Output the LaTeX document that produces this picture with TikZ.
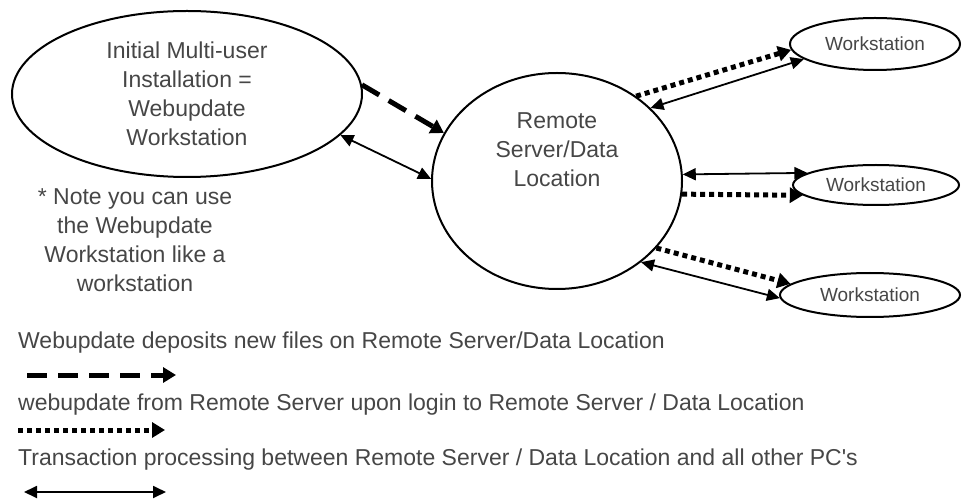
\documentclass[tikz,border=0pt]{standalone}
\usepackage{fontspec}
\setmainfont{Liberation Sans}
\usetikzlibrary{arrows.meta,shapes.geometric}
\definecolor{txtgray}{RGB}{70,70,70}

\begin{document}
\begin{tikzpicture}[x=1pt,y=-1pt,
  every node/.style={text=txtgray,inner sep=0pt,align=center,font=\fontsize{23}{29}\selectfont},
  bubble/.style={draw=black,ellipse,line width=2pt},
  wsbox/.style={bubble,font=\fontsize{19}{23}\selectfont},
  deposit/.style={line width=5pt,dash pattern=on 20pt off 11pt,-{Triangle[length=13pt,width=15pt]}},
  login/.style={line width=5pt,dash pattern=on 5pt off 4pt,-{Triangle[length=13pt,width=15pt]}},
  trans/.style={line width=1.8pt,{Triangle[length=13pt,width=12pt]}-{Triangle[length=13pt,width=12pt]}}]
\useasboundingbox (0,0) rectangle (963,502);

\node[bubble,minimum width=350pt,minimum height=166pt] (init) at (187,94) {Initial Multi-user\\Installation =\\Webupdate\\Workstation};
\node (note) at (135,240) {* Note you can use\\the Webupdate\\Workstation like a\\workstation};
\node[bubble,minimum width=250pt,minimum height=216pt] (server) at (557,181) {};
\node (servertxt) at (557,150) {Remote\\Server/Data\\Location};
\node[wsbox,minimum width=170pt,minimum height=52pt] (ws1) at (875,44) {Workstation};
\node[wsbox,minimum width=166pt,minimum height=40pt] (ws2) at (876,185) {Workstation};
\node[wsbox,minimum width=180pt,minimum height=44pt] (ws3) at (870,295) {Workstation};

\draw [deposit] (init.3) to (server.157);
\draw [trans] (init.-15) to (server.179);
\draw [login] (server.47) to (ws1.184);
\draw [trans] (server.38) to (ws1.192);
\draw [trans] (server.3) to (ws2.170);
\draw [login] (server.-6) to (ws2.188);
\draw [login] (server.-34) to (ws3.172);
\draw [trans] (server.-44) to (ws3.182);

% legend
\node[anchor=west] (legdeposit) at (18,343) {Webupdate deposits new files on Remote Server/Data Location};
\node[anchor=west] (leglogin) at (18,405) {webupdate from Remote Server upon login to Remote Server / Data Location};
\node[anchor=west] (legtrans) at (18,460) {Transaction processing between Remote Server / Data Location and all other PC\textquotesingle s};
\coordinate (dep1) at (27,375);
\coordinate (dep2) at (176,375);
\coordinate (log1) at (18,430);
\coordinate (log2) at (165,430);
\coordinate (tr1) at (24,492);
\coordinate (tr2) at (166,492);
\draw [deposit] (dep1) to (dep2);
\draw [login] (log1) to (log2);
\draw [trans] (tr1) to (tr2);
\end{tikzpicture}
\end{document}
